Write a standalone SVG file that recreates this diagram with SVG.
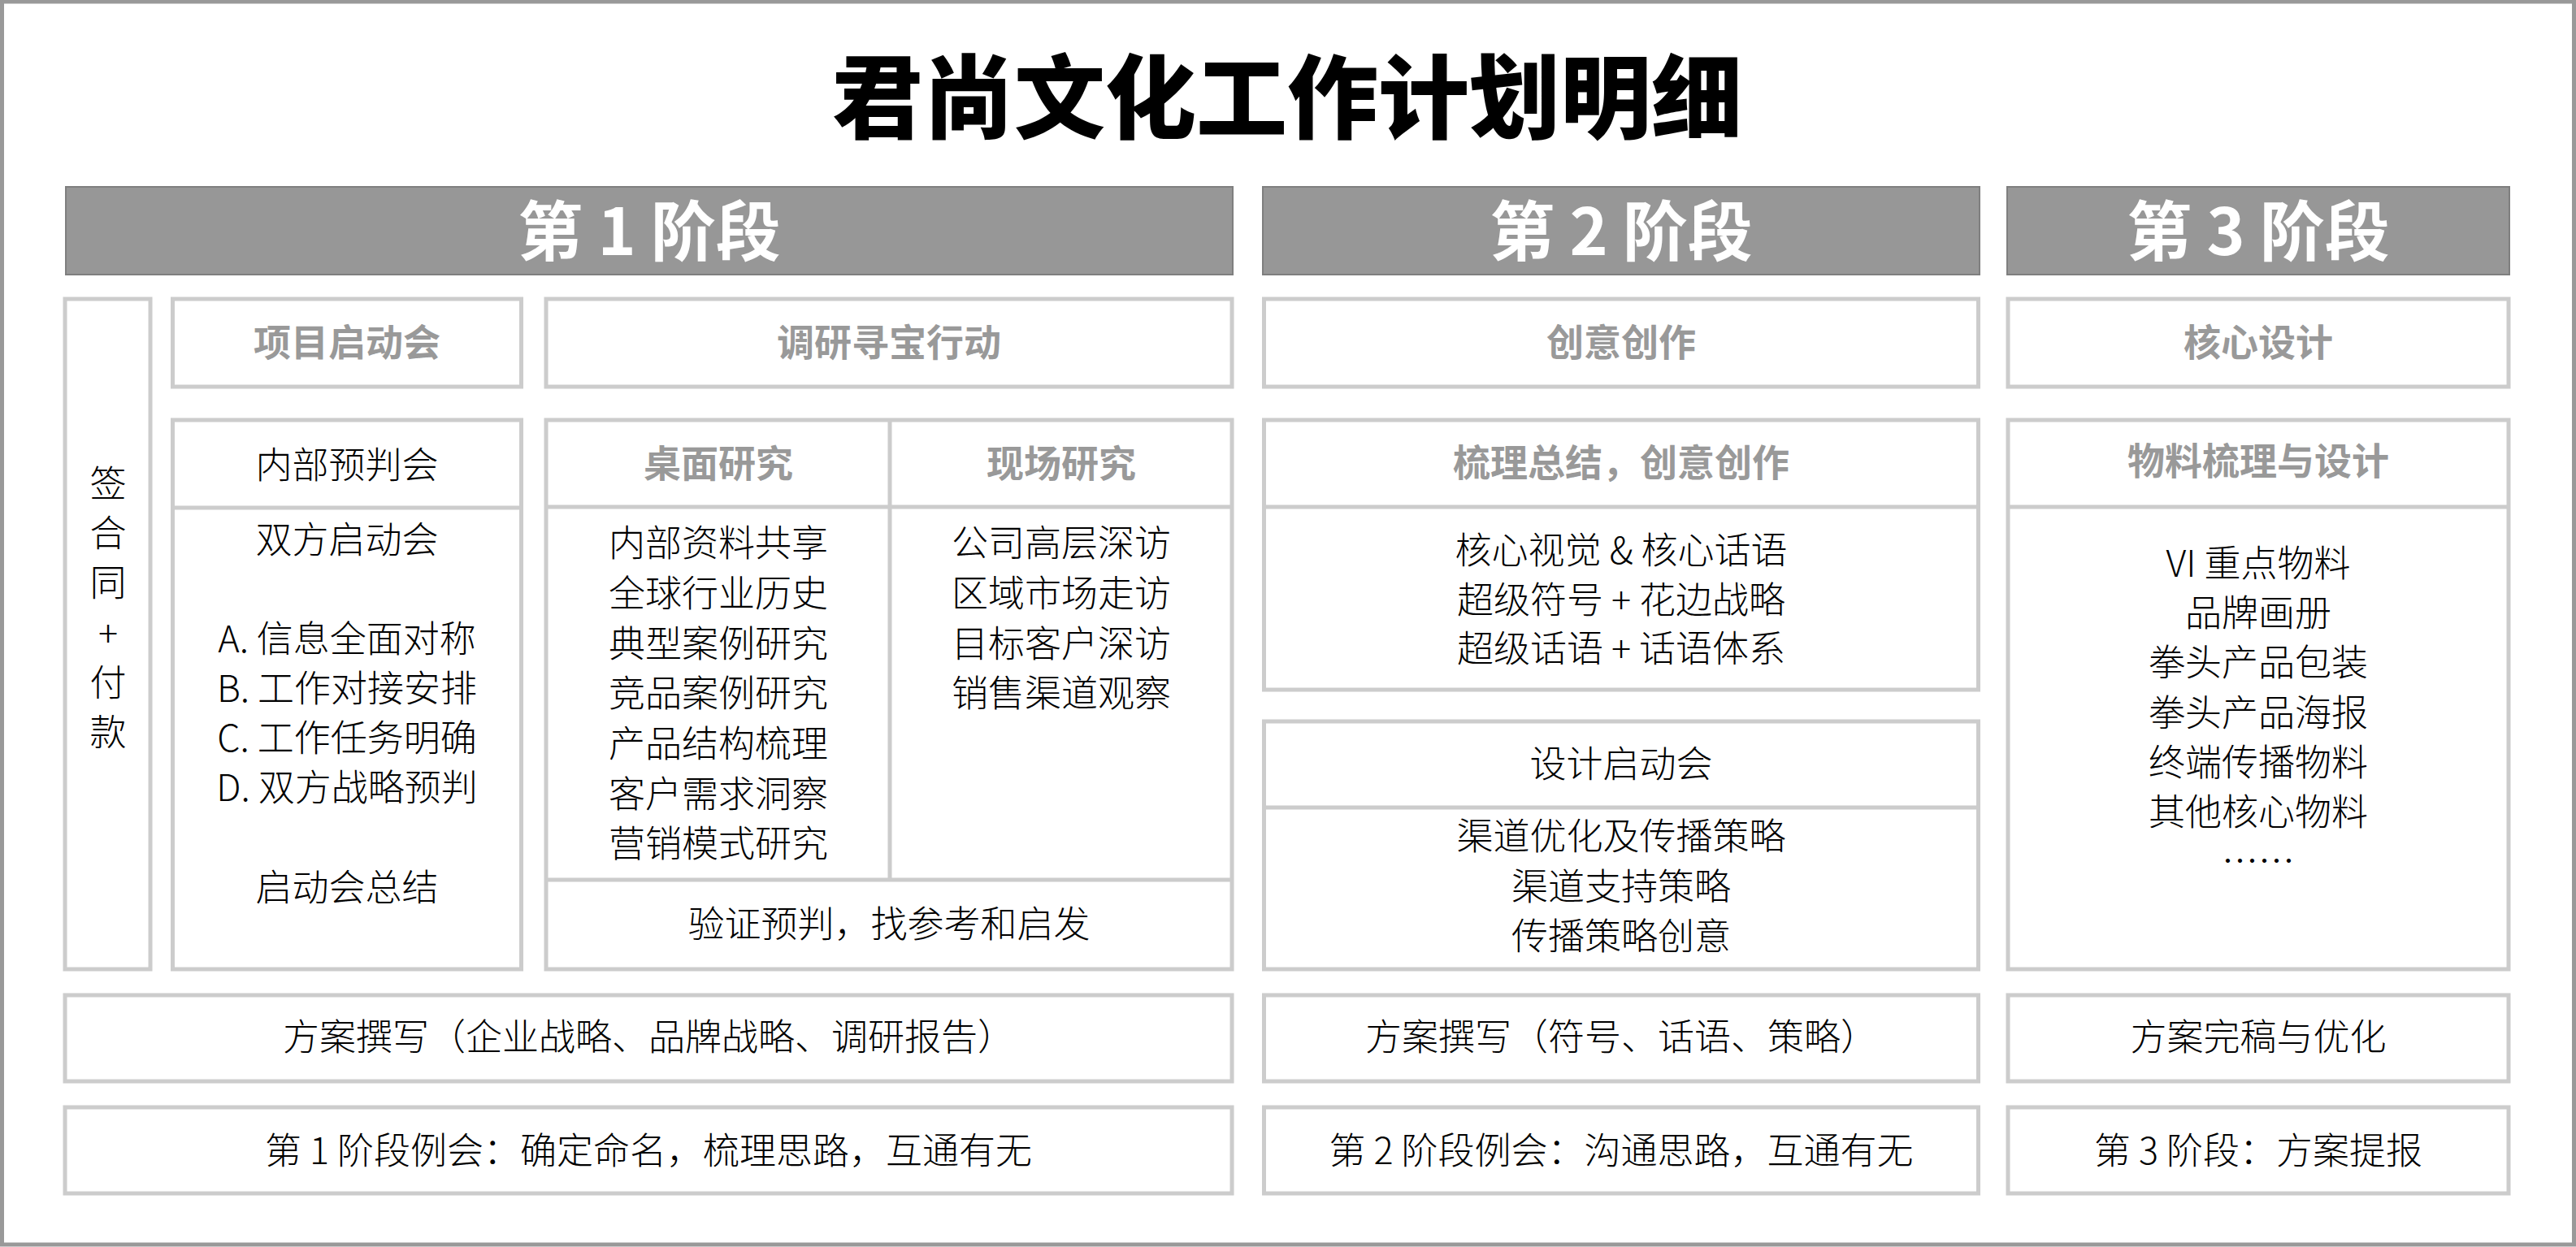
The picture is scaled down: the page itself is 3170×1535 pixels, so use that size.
<svg xmlns="http://www.w3.org/2000/svg" width="3170" height="1535" viewBox="0 0 3170 1535">
<style>
.frame{fill:#fff;stroke:#999;stroke-width:5}
.box{fill:#fff;stroke:#ccc;stroke-width:5}
.div{stroke:#ccc;stroke-width:5;fill:none}
.bar{fill:#979797;stroke:#7f7f7f;stroke-width:2}
text{font-family:"Noto Sans CJK SC","Noto Sans CJK JP","Liberation Sans",sans-serif;text-anchor:middle;dominant-baseline:central}
.t{font-size:45px;fill:#000;font-weight:300}
.h{font-size:46px;fill:#999;font-weight:700}
.p{font-size:80px;fill:#fff;font-weight:700}
.title{font-size:112px;font-weight:900;fill:#000}
</style>
<rect class="frame" x="2.5" y="2" width="3165" height="1530"/>
<g id="title"><text class="title" x="1584" y="113">君尚文化工作计划明细</text></g>

<g id="phase1-header"><rect class="bar" x="81" y="230" width="1436" height="108"/><text class="p" x="799" y="279">第 1 阶段</text></g>
<g id="phase2-header"><rect class="bar" x="1554" y="230" width="882" height="108"/><text class="p" x="1995" y="279">第 2 阶段</text></g>
<g id="phase3-header"><rect class="bar" x="2470" y="230" width="618" height="108"/><text class="p" x="2779" y="279">第 3 阶段</text></g>

<g id="sign-contract">
<rect class="box" x="80" y="368" width="105" height="825"/>
<text class="t" x="133" y="592">签<tspan x="133" dy="61">合</tspan><tspan x="133" dy="61">同</tspan><tspan x="133" dy="62">+</tspan><tspan x="133" dy="61">付</tspan><tspan x="133" dy="61">款</tspan></text>
</g>

<g id="kickoff-title"><rect class="box" x="212.5" y="368" width="429" height="108"/><text class="h" x="427" y="418">项目启动会</text></g>
<g id="research-title"><rect class="box" x="672" y="368" width="844" height="108"/><text class="h" x="1094" y="418">调研寻宝行动</text></g>
<g id="creative-title"><rect class="box" x="1555.5" y="368" width="879" height="108"/><text class="h" x="1995" y="418">创意创作</text></g>
<g id="core-title"><rect class="box" x="2471" y="368" width="616" height="108"/><text class="h" x="2779" y="418">核心设计</text></g>

<g id="kickoff-detail">
<rect class="box" x="212.5" y="517" width="429" height="676"/>
<line class="div" x1="212.5" y1="625" x2="641.5" y2="625"/>
<text class="t" x="427" y="569">内部预判会</text>
<text class="t" x="427" y="661">双方启动会</text>
<text class="t" x="427" y="783">A. 信息全面对称</text>
<text class="t" x="427" y="844">B. 工作对接安排</text>
<text class="t" x="427" y="905">C. 工作任务明确</text>
<text class="t" x="427" y="966">D. 双方战略预判</text>
<text class="t" x="427" y="1089">启动会总结</text>
</g>

<g id="research-detail">
<rect class="box" x="672" y="517" width="844" height="676"/>
<line class="div" x1="672" y1="624" x2="1516" y2="624"/>
<line class="div" x1="1095" y1="517" x2="1095" y2="1083"/>
<line class="div" x1="672" y1="1083" x2="1516" y2="1083"/>
<text class="h" x="884" y="567">桌面研究</text>
<text class="h" x="1306" y="567">现场研究</text>
<text class="t" x="884" y="665">内部资料共享</text>
<text class="t" x="884" y="727">全球行业历史</text>
<text class="t" x="884" y="789">典型案例研究</text>
<text class="t" x="884" y="850">竞品案例研究</text>
<text class="t" x="884" y="912">产品结构梳理</text>
<text class="t" x="884" y="974">客户需求洞察</text>
<text class="t" x="884" y="1035">营销模式研究</text>
<text class="t" x="1306" y="665">公司高层深访</text>
<text class="t" x="1306" y="727">区域市场走访</text>
<text class="t" x="1306" y="789">目标客户深访</text>
<text class="t" x="1306" y="850">销售渠道观察</text>
<text class="t" x="1094" y="1134">验证预判，找参考和启发</text>
</g>

<g id="summary-creative">
<rect class="box" x="1555.5" y="517" width="879" height="332"/>
<line class="div" x1="1555.5" y1="624" x2="2434.5" y2="624"/>
<text class="h" x="1995" y="566">梳理总结，创意创作</text>
<text class="t" x="1995" y="674">核心视觉 &amp; 核心话语</text>
<text class="t" x="1995" y="735">超级符号 + 花边战略</text>
<text class="t" x="1995" y="795">超级话语 + 话语体系</text>
</g>

<g id="design-kickoff">
<rect class="box" x="1555.5" y="888" width="879" height="305"/>
<line class="div" x1="1555.5" y1="994" x2="2434.5" y2="994"/>
<text class="t" x="1995" y="937">设计启动会</text>
<text class="t" x="1995" y="1026">渠道优化及传播策略</text>
<text class="t" x="1995" y="1088">渠道支持策略</text>
<text class="t" x="1995" y="1149">传播策略创意</text>
</g>

<g id="material-design">
<rect class="box" x="2471" y="517" width="616" height="676"/>
<line class="div" x1="2471" y1="624" x2="3087" y2="624"/>
<text class="h" x="2779" y="564">物料梳理与设计</text>
<text class="t" x="2779" y="690">VI 重点物料</text>
<text class="t" x="2779" y="751">品牌画册</text>
<text class="t" x="2779" y="812">拳头产品包装</text>
<text class="t" x="2779" y="874">拳头产品海报</text>
<text class="t" x="2779" y="935">终端传播物料</text>
<text class="t" x="2779" y="996">其他核心物料</text>
<text class="t" x="2779" y="1057">……</text>
</g>

<g id="p1-writing"><rect class="box" x="80" y="1225" width="1436" height="106"/><text class="t" x="798" y="1273">方案撰写（企业战略、品牌战略、调研报告）</text></g>
<g id="p2-writing"><rect class="box" x="1555.5" y="1225" width="879" height="106"/><text class="t" x="1995" y="1273">方案撰写（符号、话语、策略）</text></g>
<g id="p3-writing"><rect class="box" x="2471" y="1225" width="616" height="106"/><text class="t" x="2779" y="1273">方案完稿与优化</text></g>

<g id="p1-meeting"><rect class="box" x="80" y="1363" width="1436" height="106"/><text class="t" x="798" y="1413">第 1 阶段例会：确定命名，梳理思路，互通有无</text></g>
<g id="p2-meeting"><rect class="box" x="1555.5" y="1363" width="879" height="106"/><text class="t" x="1995" y="1413">第 2 阶段例会：沟通思路，互通有无</text></g>
<g id="p3-meeting"><rect class="box" x="2471" y="1363" width="616" height="106"/><text class="t" x="2779" y="1413">第 3 阶段：方案提报</text></g>

<g id="connectors"></g>
</svg>
